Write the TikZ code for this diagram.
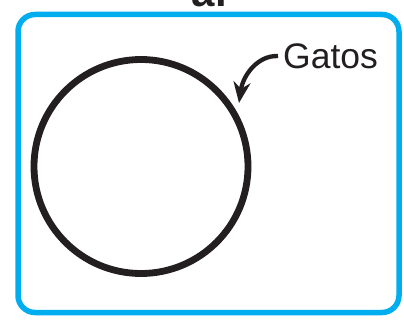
\documentclass[tikz,border=0pt]{standalone}
\usepackage{fontspec}
\setmainfont{Liberation Sans}
\usepackage{tikz}
\usetikzlibrary{arrows.meta, positioning}
\definecolor{cyanline}{RGB}{0,174,239}
\definecolor{inkblack}{RGB}{35,31,32}
\tikzstyle{arrow} = [line width=4.3pt,-{Stealth[length=21pt,width=17pt]},inkblack]
\tikzstyle{set} = [circle,draw=inkblack,line width=6.8pt,minimum size=214pt,inner sep=0pt]

\begin{document}
\begin{tikzpicture}[x=1pt,y=-1pt]
        \useasboundingbox (0,0) rectangle (404,321);
        \clip (0,0) rectangle (404,321);
        \node[anchor=base,inner sep=0pt,font=\fontsize{42}{42}\selectfont\bfseries,text=inkblack] (T) at (209.5,6.5) {al};
        \draw[cyanline,line width=5.5pt,rounded corners=17pt] (18,14.5) rectangle (399,312.5);
        \node[set] (G) at (141,166.5) {};
        \node[anchor=base west,inner sep=0pt,font=\fontsize{35.5}{36}\selectfont,text=inkblack] (L) at (283,68.3) {Gatos};
        \coordinate (P) at (239,103);
        \draw[arrow] ([xshift=-5pt]L.west) .. controls (258,55) and (243,75) .. (P);
    \end{tikzpicture}
\end{document}
